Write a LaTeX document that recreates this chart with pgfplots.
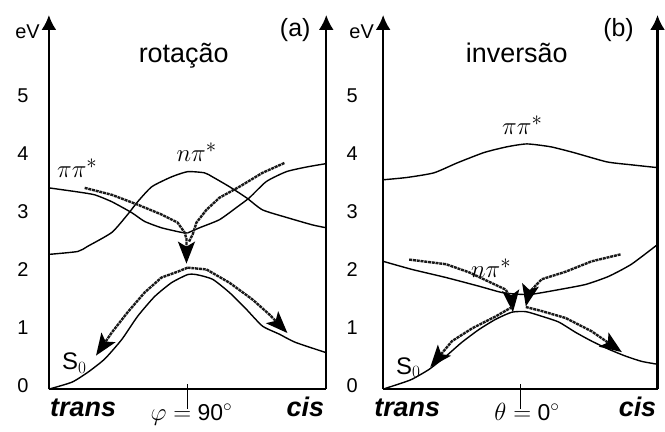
\documentclass[border=0pt]{standalone}
\usepackage{fontspec}
\setmainfont{Liberation Sans}
\usepackage{pgfplots}
\pgfplotsset{compat=1.18}
\usetikzlibrary{arrows.meta}

\tikzset{
  curve/.style={line width=1.4pt, black, smooth, tension=0.35},
  dline/.style={line width=2.4pt, black!90, dash pattern=on 3pt off 0.8pt},
  darrow/.style={dline, -{Stealth[length=22pt,width=17pt,inset=5pt,black,sep=0pt]}},
  axarrow/.style={line width=2.4pt, -{Latex[length=15pt,width=15pt]}},
}
\pgfplotsset{
  panel/.style={
    scale only axis, height=375pt,
    xmin=0, xmax=100, ymin=0, ymax=6.47,
    axis x line=bottom, axis y line=left,
    axis line style={line width=2.4pt},
    x axis line style={-},
    y axis line style={-{Latex[length=15pt,width=15pt]}},
    xtick=\empty, ytick={0,...,5}, major tick length=0pt,
    /pgf/number format/assume math mode=true,
    clip=false,
  },
}
\newcommand{\tfont}{\fontsize{27}{30}\selectfont}
\newcommand{\pfont}{\fontsize{29}{32}\selectfont}

\begin{document}
\begin{tikzpicture}
% ---------- (a) rotacao ----------
\begin{axis}[panel, width=278pt,
    yticklabel style={font=\fontsize{20}{24}\selectfont, anchor=base east, yshift=-3pt, xshift=-17pt}]
  \addplot[curve] coordinates {(0,3.48)(10.4,3.41)(16.5,3.36)(22.7,3.24)(29.9,3.05)(34.5,2.90)(40.6,2.79)(47.8,2.71)(50,2.70)};
  \addplot[curve] coordinates {(50,2.70)(54.3,2.79)(61.5,2.93)(67.6,3.14)(72.3,3.31)(78.4,3.59)(85.6,3.76)(92.8,3.84)(100,3.90)};
  \addplot[curve] coordinates {(0,2.33)(10.4,2.38)(14.0,2.47)(22.7,2.71)(28.4,3.02)(32.0,3.24)(37.1,3.50)(44.2,3.67)(50,3.76)(56.1,3.74)(59.0,3.67)(65.1,3.50)(71.2,3.31)(77.0,3.10)(85.6,2.97)(95.0,2.84)(100,2.79)};
  \addplot[curve] coordinates {(0,0)(8.3,0.12)(14.0,0.29)(20.1,0.52)(26.3,0.86)(32.0,1.26)(38.1,1.60)(44.2,1.84)(50,1.98)(53.2,1.98)(59.0,1.90)(65.1,1.67)(71.2,1.38)(77.0,1.09)(83.1,0.95)(88.8,0.81)(100,0.63)};
  % reaction paths
  \addplot[darrow] coordinates {(12.9,3.48)(22.7,3.36)(32.0,3.19)(40.6,3.02)(46.4,2.88)(48.9,2.71)(49.6,2.60)(49.6,2.17)};
  \addplot[dline] coordinates {(84.9,3.91)(77.0,3.74)(68.7,3.50)(61.5,3.31)(56.8,3.10)(53.2,2.88)(51.8,2.67)(50.5,2.55)};
  \addplot[darrow] coordinates {(50,2.10)(46.4,2.03)(40.6,1.93)(34.5,1.67)(28.4,1.33)(22.7,0.98)(17.0,0.58)};
  \addplot[darrow] coordinates {(50,2.10)(56.8,2.07)(65.1,1.84)(73.4,1.55)(79.5,1.29)(86.0,0.97)};
  \draw[axarrow] (axis cs:100,0) -- (axis cs:100,6.47);
  \draw[line width=0.8pt] (axis cs:50,0.08) -- (axis cs:50,-0.35);
  \node[anchor=base east, inner sep=0pt, font=\fontsize{20}{24}\selectfont] at (axis cs:-3.2,6.07) {eV};
  \node[anchor=base, inner sep=0pt, font=\fontsize{25}{28}\selectfont] at (axis cs:88.8,6.10) {(a)};
  \node[anchor=base, inner sep=0pt, font=\tfont] at (axis cs:48.6,5.64) {rotação};
  \node[anchor=base west, inner sep=0pt, font=\pfont] at (axis cs:2.9,3.66) {$\pi\pi^{*}$};
  \node[anchor=base west, inner sep=0pt, font=\pfont] at (axis cs:46.0,3.93) {$n\pi^{*}$};
  \node[anchor=base west, inner sep=0pt, font=\fontsize{24}{28}\selectfont] at (axis cs:4.7,0.34) {S$_0$};
  \node[anchor=base west, inner sep=0pt, font=\tfont\bfseries\itshape] at (axis cs:0.4,-0.47) {trans};
  \node[anchor=base east, inner sep=0pt, font=\tfont\bfseries\itshape] at (axis cs:99.3,-0.47) {cis};
  \node[anchor=base, inner sep=0pt, font=\fontsize{23}{26}\selectfont] at (axis cs:51.4,-0.55) {$\varphi =$ 90$^{\circ}$};
\end{axis}
% ---------- (b) inversao ----------
\begin{axis}[panel, width=275pt, at={(335pt,0)},
    yticklabel style={font=\fontsize{20}{24}\selectfont, anchor=base east, yshift=-3pt, xshift=-22pt}]
  \addplot[curve] coordinates {(0,3.62)(8.7,3.66)(18.5,3.74)(26.9,3.91)(36.7,4.09)(45.1,4.19)(52.4,4.24)(61.1,4.19)(69.5,4.09)(81.5,3.93)(90.2,3.88)(100,3.83)};
  \addplot[curve] coordinates {(0,2.21)(10.5,2.07)(22.9,1.93)(34.9,1.78)(43.3,1.67)(49.5,1.64)(54.2,1.64)(64.0,1.72)(73.8,1.81)(82.2,1.95)(90.5,2.16)(100,2.50)};
  \addplot[curve] coordinates {(0,0)(5.8,0.09)(10.5,0.17)(16.7,0.34)(22.9,0.57)(28.7,0.81)(34.9,1.03)(41.1,1.21)(46.9,1.33)(52.0,1.34)(57.8,1.26)(64.0,1.16)(70.2,0.98)(76.0,0.83)(82.2,0.69)(88.4,0.57)(94.2,0.48)(100,0.43)};
  % reaction paths
  \addplot[darrow] coordinates {(9.5,2.24)(22.9,2.16)(31.3,2.02)(44.7,1.72)(46.9,1.52)(47.3,1.33)};
  \addplot[darrow] coordinates {(86.5,2.33)(76.0,2.21)(66.5,2.03)(57.8,1.90)(53.1,1.67)(52.0,1.43)};
  \addplot[darrow] coordinates {(47,1.42)(41.1,1.26)(32.4,1.05)(25.1,0.83)(17.2,0.38)};
  \addplot[darrow] coordinates {(52,1.42)(57.8,1.35)(66.5,1.23)(76.0,1.00)(87.0,0.64)};
  \draw[axarrow] (axis cs:100,0) -- (axis cs:100,6.47);
  \draw[line width=0.8pt] (axis cs:50,0.08) -- (axis cs:50,-0.35);
  \node[anchor=base east, inner sep=0pt, font=\fontsize{20}{24}\selectfont] at (axis cs:-3.3,6.07) {eV};
  \node[anchor=base, inner sep=0pt, font=\fontsize{25}{28}\selectfont] at (axis cs:85.8,6.10) {(b)};
  \node[anchor=base, inner sep=0pt, font=\tfont] at (axis cs:48.7,5.64) {inversão};
  \node[anchor=base west, inner sep=0pt, font=\pfont] at (axis cs:43.3,4.40) {$\pi\pi^{*}$};
  \node[anchor=base west, inner sep=0pt, font=\pfont] at (axis cs:32,1.93) {$n\pi^{*}$};
  \node[anchor=base west, inner sep=0pt, font=\fontsize{24}{28}\selectfont] at (axis cs:4.7,0.26) {S$_0$};
  \node[anchor=base west, inner sep=0pt, font=\tfont\bfseries\itshape] at (axis cs:-3.3,-0.47) {trans};
  \node[anchor=base east, inner sep=0pt, font=\tfont\bfseries\itshape] at (axis cs:99.6,-0.47) {cis};
  \node[anchor=base, inner sep=0pt, font=\fontsize{23}{26}\selectfont] at (axis cs:52.4,-0.55) {$\theta =$ 0$^{\circ}$};
\end{axis}
\path (-49pt,-42pt) rectangle (616pt,390pt);
\end{tikzpicture}
\end{document}
